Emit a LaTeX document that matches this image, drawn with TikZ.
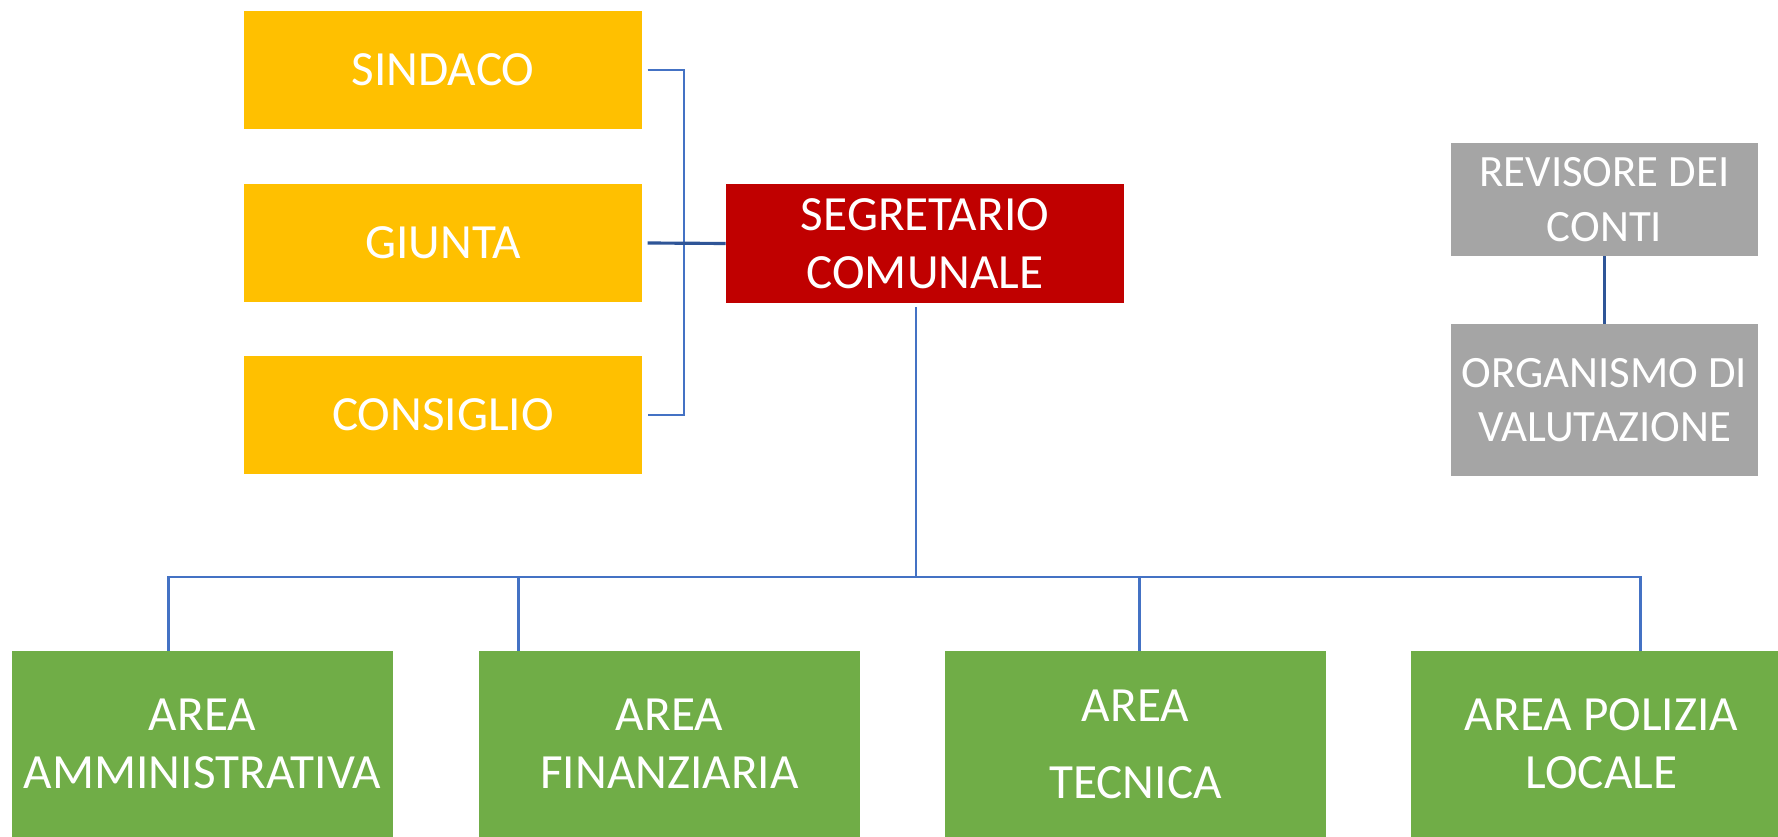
\documentclass[tikz,border=0pt]{standalone}
\usepackage{fontspec}
\setmainfont{Carlito}
\usetikzlibrary{calc}
\definecolor{giallo}{HTML}{FFC000}
\definecolor{rosso}{HTML}{C00000}
\definecolor{verde}{HTML}{70AD47}
\definecolor{grigio}{HTML}{A5A5A5}
\definecolor{linea}{HTML}{4472C4}
\definecolor{lineascura}{HTML}{2F5597}

\begin{document}
\begin{tikzpicture}[x=0.02cm,y=-0.02cm,
        box/.style={rectangle,inner sep=0pt,align=center,text=white,
                font=\fontsize{28}{33}\selectfont},
        organo/.style={box,fill=giallo,minimum width=7.96cm,minimum height=2.36cm},
        segretario/.style={box,fill=rosso,minimum width=7.96cm,minimum height=2.38cm},
        controllo/.style={box,fill=grigio,minimum width=6.14cm,
                font=\fontsize{25.5}{31}\selectfont},
        area/.style={box,fill=verde,minimum width=7.62cm,minimum height=3.72cm},
        conn/.style={draw=linea,line width=1.4pt},
        connscura/.style={draw=lineascura,line width=1.8pt}]
        \useasboundingbox (0,0) rectangle (1778,837);
        \clip (0,0) rectangle (1778,837);
        \fill[white] (0,0) rectangle (1778,837);
        % organi politici
        \node[organo] (sindaco) at (443,70) {SINDACO};
        \node[organo] (giunta) at (443,243) {GIUNTA};
        \node[organo] (consiglio) at (443,415) {CONSIGLIO};
        \node[segretario] (segr) at (925,243.5) {SEGRETARIO\\COMUNALE};
        % organi di controllo
        \node[controllo,minimum height=2.26cm] (revisore) at (1604.5,199.5) {REVISORE DEI\\CONTI};
        \node[controllo,minimum height=3.04cm] (oiv) at (1604.5,400) {ORGANISMO DI\\VALUTAZIONE};
        % aree
        \node[area] (a1) at (202.5,744) {AREA\\AMMINISTRATIVA};
        \node[area] (a2) at (669.5,744) {AREA\\FINANZIARIA};
        \node[area] (a3) at (1135.5,744) {AREA\\[0.38cm]TECNICA};
        \node[area] (a4) at (1601.5,744) {AREA POLIZIA\\LOCALE};
        \coordinate (brk) at (684,0);
        \coordinate (bus) at (0,577);
        \coordinate (s0) at ($(segr.south)+(-9,4)$);
        \coordinate (d1) at ($(a1.north west)+(157,0)$);
        \coordinate (d2) at ($(a2.north west)+(40,0)$);
        \coordinate (d3) at ($(a3.north west)+(195,0)$);
        \coordinate (d4) at ($(a4.north west)+(230,0)$);
        \draw[conn] ([xshift=3]sindaco.east) -- (sindaco.east -| brk) -- (consiglio.east -| brk) -- ([xshift=3]consiglio.east);
        \draw[connscura] ([xshift=3]giunta.east) -- (segr.west);
        \draw[conn] (s0) -- (s0 |- bus);
        \draw[conn] (d1) -- (d1 |- bus) -- (d4 |- bus) -- (d4);
        \draw[conn] (d2) -- (d2 |- bus);
        \draw[conn] (d3) -- (d3 |- bus);
        \draw[connscura] (revisore.south) -- (oiv.north);
        \end{tikzpicture}
\end{document}
